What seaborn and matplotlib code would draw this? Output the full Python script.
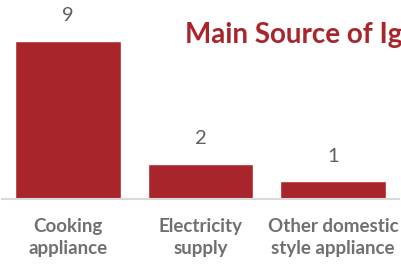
import matplotlib
matplotlib.use("Agg")
import matplotlib.pyplot as plt
import seaborn as sns
import pandas as pd

# Daten
categories = ["Cooking\nappliance", "Electricity\nsupply", "Other domestic\nstyle appliance"]
counts = [9, 2, 1]
title = "Main Source of Ignition"

red = "#A8262B"
grey_text = "#707070"

sns.set_theme(style="white")
plt.rcParams["font.family"] = ["Lato", "DejaVu Sans"]

df = pd.DataFrame({"source": categories, "count": counts})

fig = plt.figure(figsize=(4.01, 2.67), dpi=100)
ax = fig.add_axes([0.005, 1 - 199 / 267, 0.99, 199 / 267])

sns.barplot(data=df, x="source", y="count", color=red, width=0.8, saturation=1, ax=ax)

ax.set_xlim(-0.5, 2.5)
ax.set_ylim(0, 11.33)

# Werte über den Balken
for c in ax.containers:
    ax.bar_label(c, padding=12, fontsize=14.5, color="#606060")

for s in ["top", "left", "right"]:
    ax.spines[s].set_visible(False)
ax.spines["bottom"].set_color("#d9d9d9")
ax.spines["bottom"].set_linewidth(1.5)

ax.set_yticks([])
ax.set_xlabel("")
ax.set_ylabel("")
ax.tick_params(axis="x", length=0, pad=14)
for lbl in ax.get_xticklabels():
    lbl.set_fontsize(13.5)
    lbl.set_fontweight("bold")
    lbl.set_color(grey_text)
    lbl.set_linespacing(1.3)

# Titel (rechts abgeschnitten wie im Original)
fig.text(185 / 401, 1 - 35 / 267, title, fontsize=20, fontweight="bold",
         color=red, va="center", ha="left")

fig.savefig("out.png", dpi=100)
